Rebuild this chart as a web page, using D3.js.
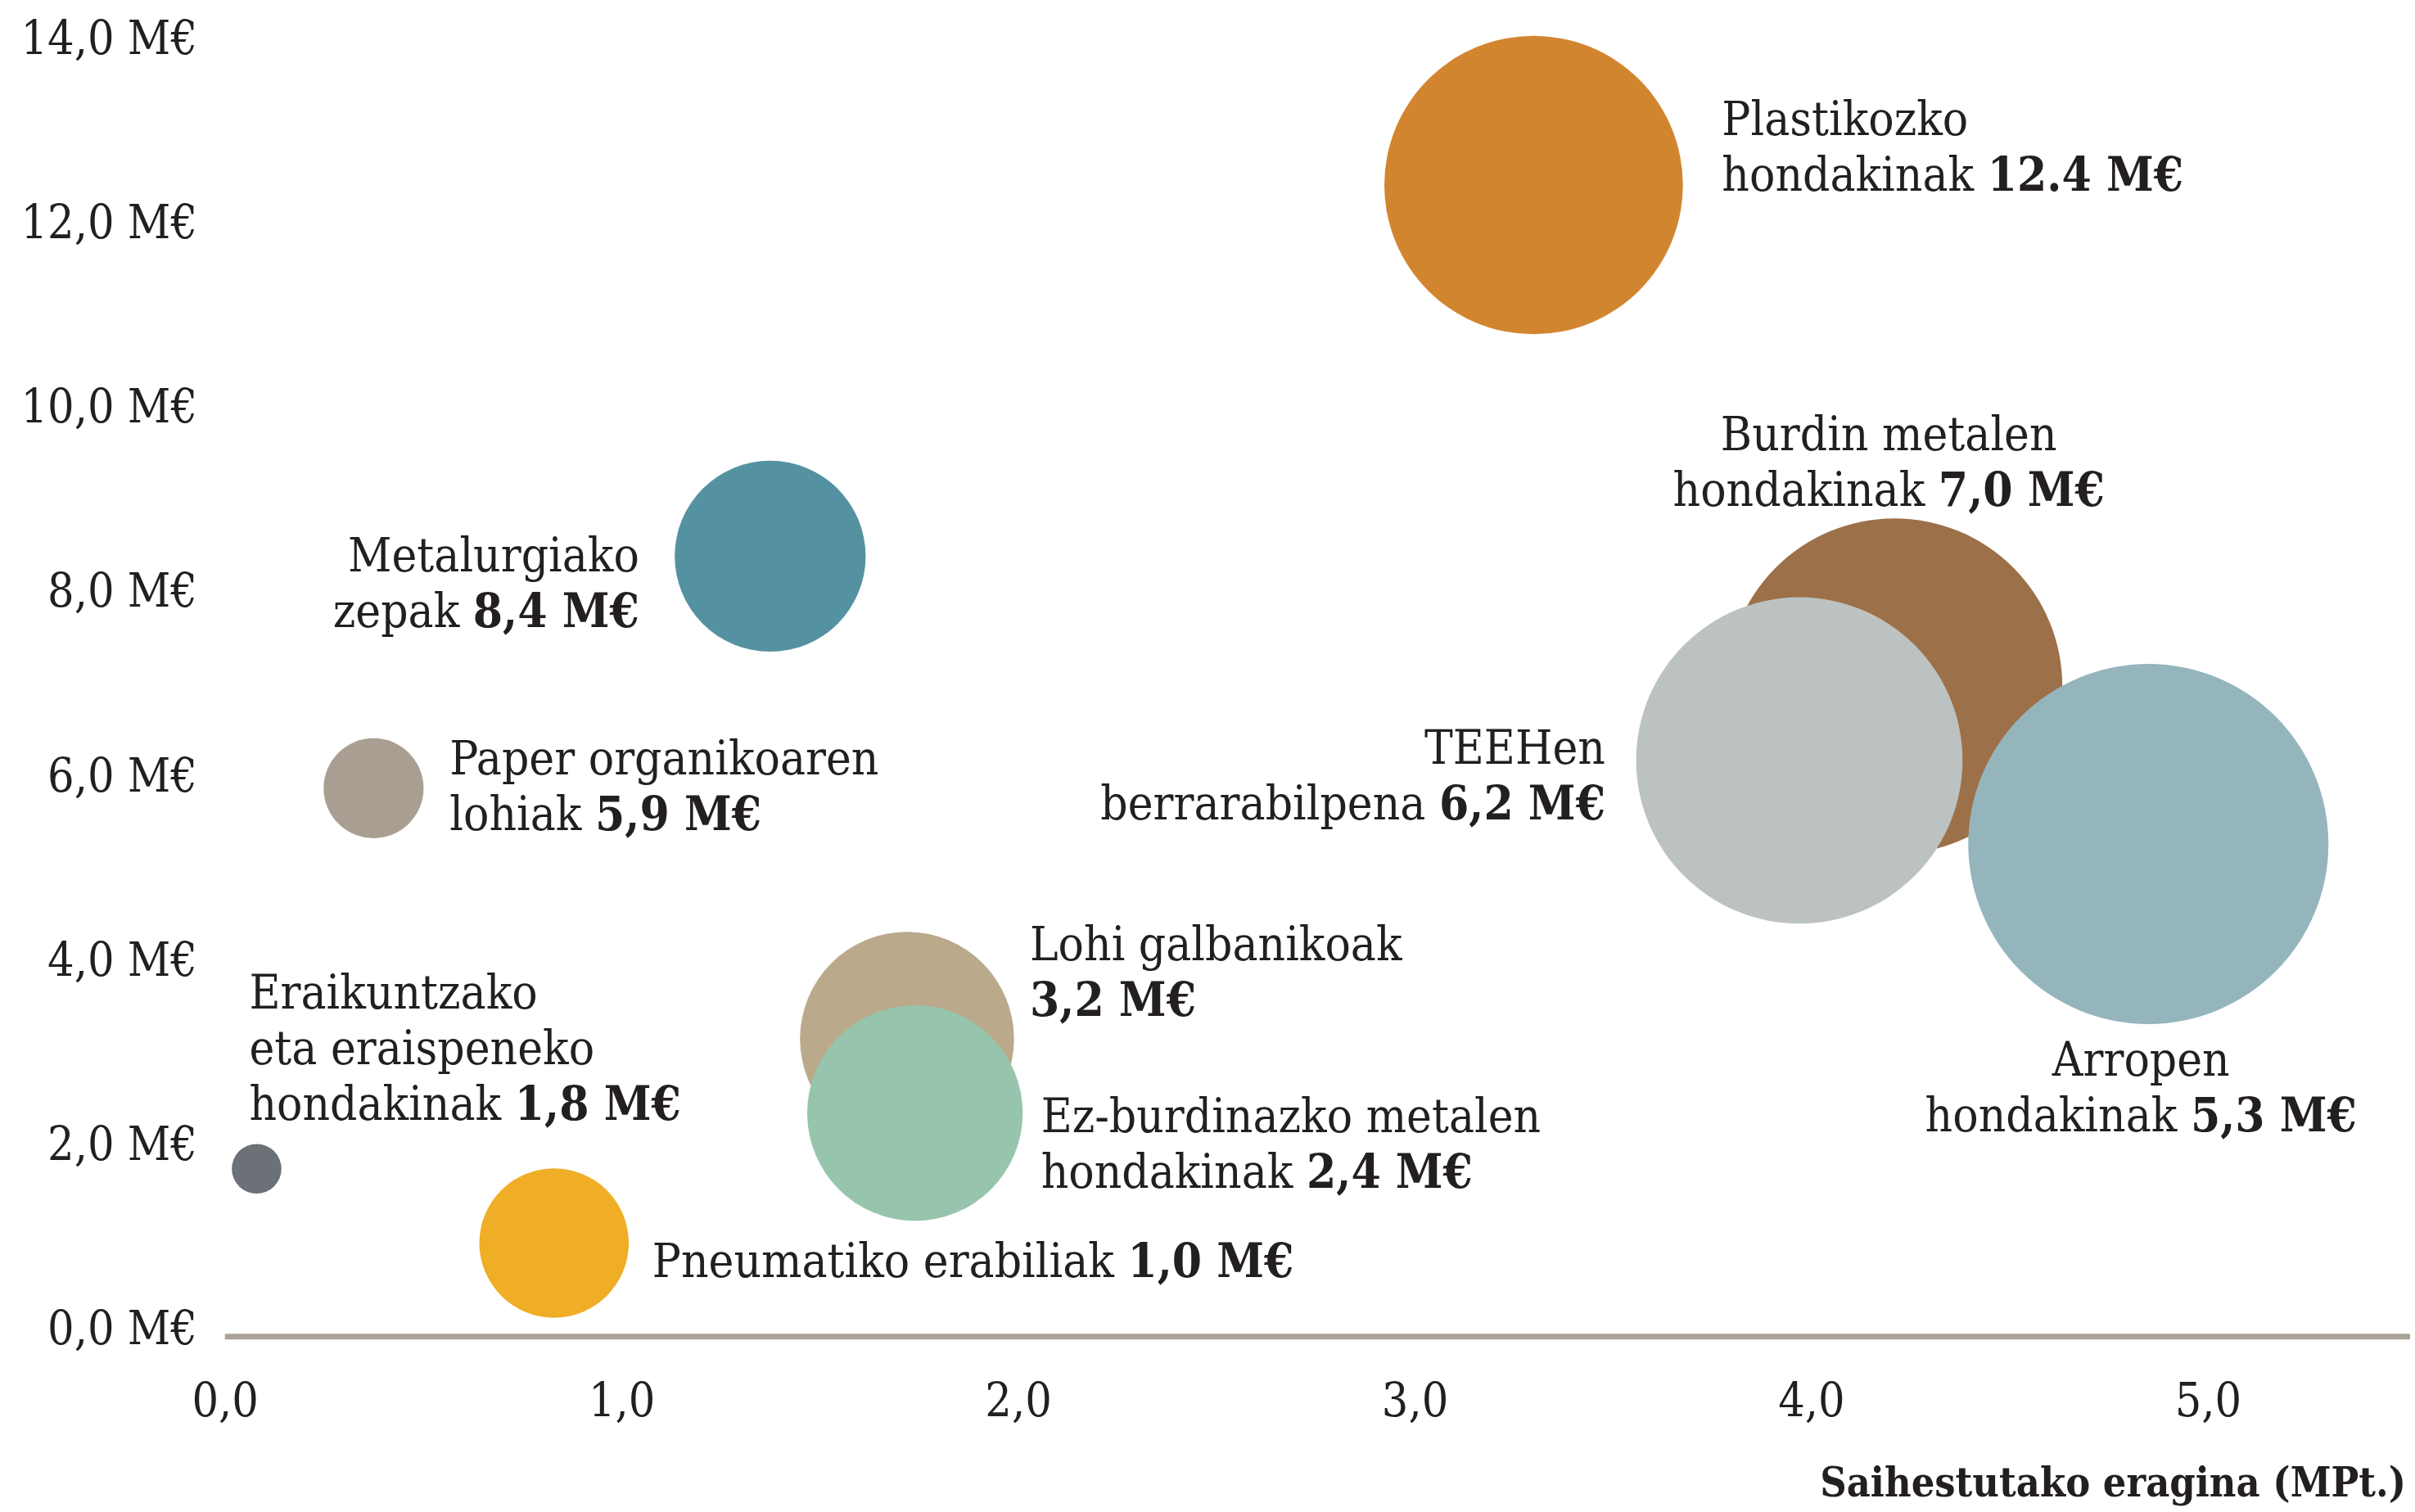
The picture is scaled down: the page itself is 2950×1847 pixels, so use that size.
<!DOCTYPE html>
<html>
<head>
<meta charset="utf-8">
<script src="https://cdn.jsdelivr.net/npm/d3@7"></script>
<style>
  html, body { margin: 0; padding: 0; background: #ffffff; }
  svg { display: block; }
  text { font-family: "DejaVu Serif Condensed", "DejaVu Serif", serif; fill: #231f20; }
</style>
</head>
<body>
<div id="chart"></div>
<script>
// ---- data ----
const names = [
  "Burdin metalen hondakinak",
  "TEEHen berrarabilpena",
  "Arropen hondakinak",
  "Plastikozko hondakinak",
  "Metalurgiako zepak",
  "Paper organikoaren lohiak",
  "Lohi galbanikoak",
  "Ez-burdinazko metalen hondakinak",
  "Eraikuntzako eta eraispeneko hondakinak",
  "Pneumatiko erabiliak"
];
const impactMPt = [4.21, 3.97, 4.85, 3.30, 1.375, 0.375, 1.72, 1.74, 0.08, 0.83];   // x
const savingsMEur = [7.0, 6.2, 5.3, 12.4, 8.4, 5.9, 3.2, 2.4, 1.8, 1.0];           // y
const bubbleSize = [86.8, 82.1, 100, 68.7, 28.1, 7.7, 35.3, 35.8, 1.9, 17.2];        // relative bubble magnitude
const valueLabels = ["7,0 M€", "6,2 M€", "5,3 M€", "12.4 M€", "8,4 M€", "5,9 M€", "3,2 M€", "2,4 M€", "1,8 M€", "1,0 M€"];
const labelLines = [
  ["Burdin metalen", "hondakinak"],
  ["TEEHen", "berrarabilpena"],
  ["Arropen", "hondakinak"],
  ["Plastikozko", "hondakinak"],
  ["Metalurgiako", "zepak"],
  ["Paper organikoaren", "lohiak"],
  ["Lohi galbanikoak", ""],
  ["Ez-burdinazko metalen", "hondakinak"],
  ["Eraikuntzako", "eta eraispeneko", "hondakinak"],
  ["Pneumatiko erabiliak"]
];
const xTicks = [0, 1, 2, 3, 4, 5];
const xTickLabels = ["0,0", "1,0", "2,0", "3,0", "4,0", "5,0"];
const yTicks = [0, 2, 4, 6, 8, 10, 12, 14];
const yTickLabels = ["0,0 M€", "2,0 M€", "4,0 M€", "6,0 M€", "8,0 M€", "10,0 M€", "12,0 M€", "14,0 M€"];
const xTitle = "Saihestutako eragina (MPt.)";

// ---- styles / layout ----
const colors = ["#9c7049", "#bcc2c1", "#95b5bd", "#d2852f", "#5592a1", "#a89f92", "#bba98c", "#97c4ad", "#6c7077", "#efae26"];
// label offsets from bubble centre (px), anchor
const labelLayout = [
  { dx: -7, dy: -309, anchor: "middle" },
  { dx: -237, dy: -16, anchor: "end" },
  { dx: -9, dy: 263, anchor: "middle" },
  { dx: 230, dy: -81, anchor: "start" },
  { dx: -160, dy: -2, anchor: "end" },
  { dx: 93, dy: -37, anchor: "start" },
  { dx: 150, dy: -116, anchor: "start" },
  { dx: 154, dy: 3, anchor: "start" },
  { dx: -9, dy: -216, anchor: "start" },
  { dx: 120, dy: 21, anchor: "start" }
];

const W = 2950, H = 1847;
const FS = 58, FST = 57, LH = 68;
const FONT = '"DejaVu Serif Condensed", "DejaVu Serif", serif';

const svg = d3.select("#chart").append("svg").attr("width", W).attr("height", H);

const x = d3.scaleLinear().domain([0, 5.51]).range([274.7, 2944]);
const y = d3.scaleLinear().domain([0, 14]).range([1631.8, 44.6]);
const yLab = d3.scaleLinear().domain([0, 14]).range([1621.8, 45.2]);
const r = d3.scaleSqrt().domain([0, 100]).range([0, 220]);

// x axis line
svg.append("line")
  .attr("x1", x(0)).attr("x2", x(5.51))
  .attr("y1", y(0) + 1).attr("y2", y(0) + 1)
  .attr("stroke", "#aaa398").attr("stroke-width", 7);

// x ticks
const xAxis = d3.axisBottom(x).tickValues(xTicks).tickSize(0).tickPadding(0)
  .tickFormat((d, i) => xTickLabels[i]);
const gx = svg.append("g").attr("transform", `translate(0, 1710)`).call(xAxis);
gx.select(".domain").remove();
gx.selectAll("text").attr("dy", "0.35em").attr("font-size", FST)
  .style("font-family", FONT).attr("fill", "#231f20");

// y ticks
const yAxis = d3.axisLeft(yLab).tickValues(yTicks).tickSize(0).tickPadding(0)
  .tickFormat((d, i) => yTickLabels[i]);
const gy = svg.append("g").attr("transform", `translate(241, 0)`).call(yAxis);
gy.select(".domain").remove();
gy.selectAll("text").attr("dy", "0.35em").attr("font-size", FST)
  .style("font-family", FONT).attr("fill", "#231f20");

// x title
svg.append("text")
  .attr("x", 2939).attr("y", 1810).attr("dy", "0.35em")
  .attr("text-anchor", "end").attr("font-size", 50).attr("font-weight", "bold")
  .text(xTitle);

// bubbles
const data = names.map((n, i) => ({
  name: n, x: impactMPt[i], y: savingsMEur[i], s: bubbleSize[i],
  color: colors[i], value: valueLabels[i], lines: labelLines[i], lay: labelLayout[i]
}));

svg.append("g").selectAll("circle").data(data).join("circle")
  .attr("cx", d => x(d.x)).attr("cy", d => y(d.y)).attr("r", d => r(d.s))
  .attr("fill", d => d.color);

// labels
const lg = svg.append("g");
data.forEach(d => {
  const cx = x(d.x) + d.lay.dx, cy = y(d.y) + d.lay.dy;
  const t = lg.append("text").attr("x", cx).attr("y", cy)
    .attr("text-anchor", d.lay.anchor).attr("font-size", FS);
  const n = d.lines.length;
  d.lines.forEach((line, li) => {
    const ts = t.append("tspan").attr("x", cx).attr("y", cy + li * LH).attr("dy", "0.35em");
    if (li === n - 1) {
      if (line === "") {
        ts.append("tspan").attr("font-weight", "bold").text(d.value);
      } else {
        ts.append("tspan").text(line + " ");
        ts.append("tspan").attr("font-weight", "bold").text(d.value);
      }
    } else {
      ts.text(line);
    }
  });
});
</script>
</body>
</html>
